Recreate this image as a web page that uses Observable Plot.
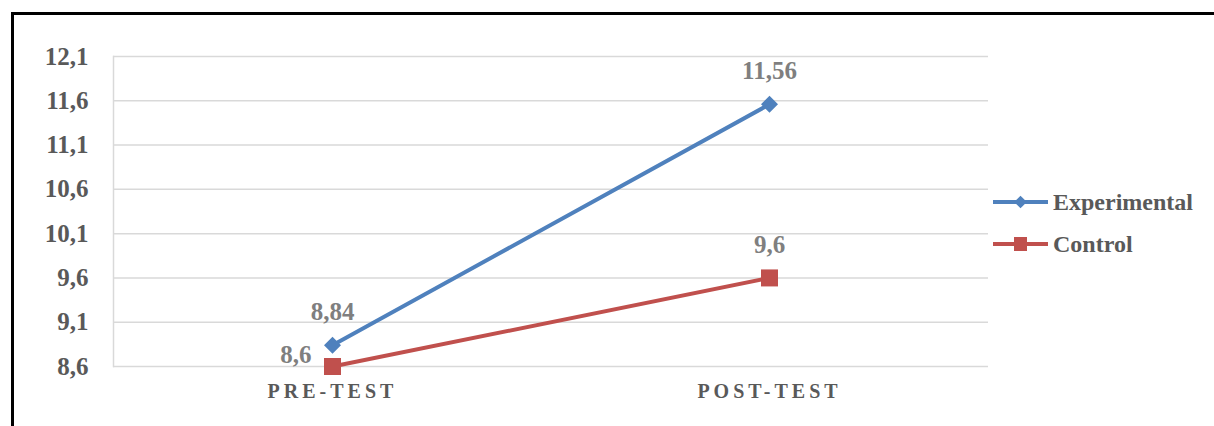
<!DOCTYPE html>
<html>
<head>
<meta charset="utf-8">
<script src="https://cdn.jsdelivr.net/npm/d3@7"></script>
<script src="https://cdn.jsdelivr.net/npm/@observablehq/plot@0.6"></script>
<style>
  html, body { margin: 0; padding: 0; background: #fff; }
  #wrap { position: relative; width: 1214px; height: 426px; overflow: hidden; }
  #border { position: absolute; left: 11px; top: 12px; width: 1210px; height: 420px;
            border-top: 3px solid #000; border-left: 3px solid #000; box-sizing: border-box; pointer-events: none; }
  #chart svg g[aria-label="x-axis tick label"] text { letter-spacing: 4px; }
</style>
</head>
<body>
<div id="wrap">
  <div id="chart"></div>
  <div id="border"></div>
</div>
<script>
const categories = ["PRE-TEST", "POST-TEST"];
const seriesNames = ["Experimental", "Control"];
const experimental = [8.84, 11.56];
const control = [8.6, 9.6];
const yTicks = [8.6, 9.1, 9.6, 10.1, 10.6, 11.1, 11.6, 12.1];
const colors = ["#4F81BD", "#C0504D"];

const fmt = d => String(d).replace(".", ",");
const rows = [];
categories.forEach((c, i) => {
  rows.push({cat: c, series: seriesNames[0], value: experimental[i]});
  rows.push({cat: c, series: seriesNames[1], value: control[i]});
});
const expRows = rows.filter(d => d.series === seriesNames[0]);
const ctlRows = rows.filter(d => d.series === seriesNames[1]);
const font = "'Liberation Serif', 'Times New Roman', serif";

const plot = Plot.plot({
  width: 1214,
  height: 426,
  marginLeft: 113,
  marginRight: 226,
  marginTop: 56,
  marginBottom: 60,
  style: {fontFamily: font, background: "transparent", overflow: "visible"},
  x: {type: "point", domain: categories, padding: 0.5},
  y: {domain: [8.6, 12.1]},
  color: {domain: seriesNames, range: colors},
  marks: [
    Plot.gridY(yTicks, {stroke: "#d9d9d9", strokeOpacity: 1, strokeWidth: 1.5}),
    Plot.frame({anchor: "left", stroke: "#d9d9d9", strokeWidth: 1.5}),
    Plot.axisY(yTicks, {tickSize: 0, tickPadding: 25, tickFormat: fmt, fontSize: 25, fontWeight: "bold", fill: "#595959", label: null}),
    Plot.axisX({tickSize: 0, tickPadding: 17, fontSize: 20, fontWeight: "bold", fill: "#595959", label: null}),
    Plot.lineY(rows, {x: "cat", y: "value", z: "series", stroke: "series", strokeWidth: 4}),
    Plot.dot(expRows, {x: "cat", y: "value", symbol: "square", rotate: 45, r: 6.8, fill: "series"}),
    Plot.dot(ctlRows, {x: "cat", y: "value", symbol: "square", r: 9.6, fill: "series"}),
    Plot.text(rows.filter(d => !(d.cat === categories[0] && d.series === seriesNames[1])),
      {x: "cat", y: "value", text: d => fmt(d.value), dy: -33, fontSize: 25, fontWeight: "bold", fill: "#7f7f7f"}),
    Plot.text(rows.filter(d => d.cat === categories[0] && d.series === seriesNames[1]),
      {x: "cat", y: "value", text: d => fmt(d.value), dx: -21, dy: -12, textAnchor: "end", fontSize: 25, fontWeight: "bold", fill: "#7f7f7f"})
  ]
});
document.getElementById("chart").appendChild(plot);

// legend on the right
const svg = d3.select(plot);
const colorScale = plot.scale("color");
const lg = svg.append("g").attr("font-family", font).attr("text-anchor", "start");
seriesNames.forEach((name, i) => {
  const y = 202 + i * 42;
  const c = colorScale.apply(name);
  const g = lg.append("g").attr("transform", `translate(0,${y})`);
  g.append("line").attr("x1", 993).attr("x2", 1048).attr("y1", 0).attr("y2", 0)
    .attr("stroke", c).attr("stroke-width", 4);
  if (i === 0) {
    g.append("rect").attr("x", -4.5).attr("y", -4.5).attr("width", 9).attr("height", 9)
      .attr("fill", c).attr("transform", "translate(1020.5,0) rotate(45)");
  } else {
    g.append("rect").attr("x", 1014).attr("y", -7).attr("width", 13).attr("height", 14).attr("fill", c);
  }
  g.append("text").attr("x", 1053).attr("y", 0).attr("dy", "0.34em").attr("text-anchor", "start")
    .attr("font-size", 24).attr("font-weight", "bold").attr("fill", "#595959").text(name);
});
</script>
</body>
</html>
